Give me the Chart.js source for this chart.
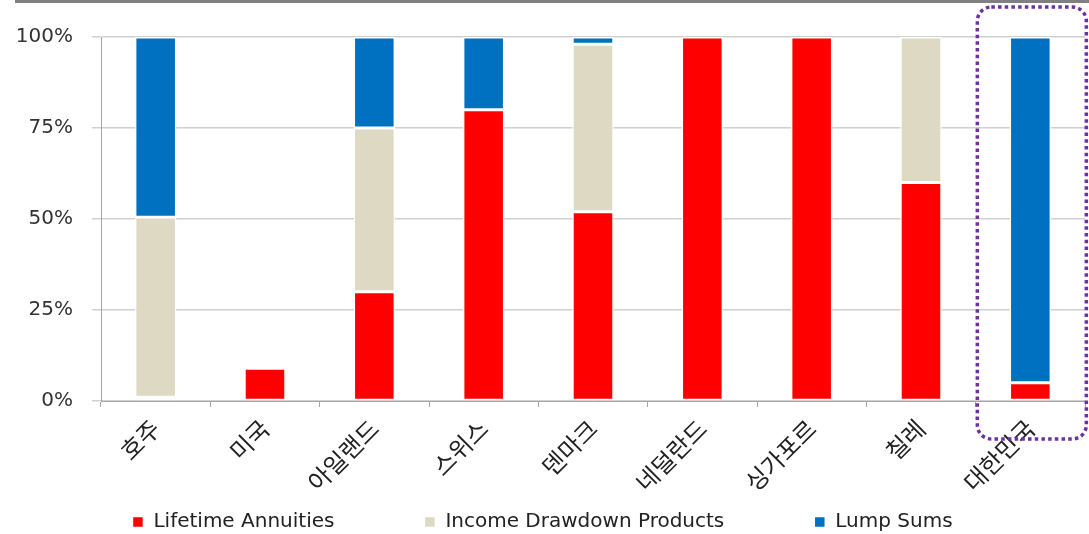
<!DOCTYPE html>
<html>
<head>
<meta charset="utf-8">
<script src="https://cdn.jsdelivr.net/npm/chart.js@4/dist/chart.umd.min.js"></script>
<style>
  html, body { margin: 0; padding: 0; background: #fff; }
  #wrap { position: relative; width: 1089px; height: 534px; }
  #topbar { position: absolute; left: 15px; top: 0; width: 1074px; height: 3px; background: #808080; }
</style>
</head>
<body>
<div id="wrap">
  <div id="topbar"></div>
  <canvas id="chart" width="1089" height="534"></canvas>
</div>
<script>
// Countries and share of each payout type (%)
const countries = ['호주', '미국', '아일랜드', '스위스', '덴마크', '네덜란드', '싱가포르', '칠레', '대한민국'];
const lifetimeAnnuities = [1, 9, 30, 80, 52, 100, 100, 60, 5];
const incomeDrawdown = [49.5, 0, 45, 0, 46, 0, 0, 40, 0];
const lumpSums = [49.5, 0, 25, 20, 2, 0, 0, 0, 95];
const yTicks = [0, 25, 50, 75, 100];

// dotted highlight round the last category
const highlightBox = {
    id: 'highlightBox',
    afterDraw(chart) {
        const x = chart.scales.x;
        const y = chart.scales.y;
        const cx = x.getPixelForValue(countries.length - 1);
        const left = cx - 53, right = cx + 56;
        const top = 7, bottom = y.bottom + 38;
        const ctx = chart.ctx;
        ctx.save();
        ctx.strokeStyle = '#7030A0';
        ctx.lineWidth = 3.5;
        ctx.setLineDash([3.5, 3.2]);
        ctx.beginPath();
        ctx.roundRect(left, top, right - left, bottom - top, 14);
        ctx.stroke();
        ctx.restore();
    }
};

const ctx = document.getElementById('chart').getContext('2d');
new Chart(ctx, {
    type: 'bar',
    data: {
        labels: countries,
        datasets: [
            { label: 'Lifetime Annuities', data: lifetimeAnnuities, backgroundColor: '#FF0000' },
            { label: 'Income Drawdown Products', data: incomeDrawdown, backgroundColor: '#DDD9C3' },
            { label: 'Lump Sums', data: lumpSums, backgroundColor: '#0070C0' }
        ].map(d => Object.assign(d, {
            borderColor: '#ffffff',
            borderWidth: 1.5,
            borderSkipped: false,
            barPercentage: 0.38,
            categoryPercentage: 1
        }))
    },
    options: {
        responsive: false,
        animation: false,
        layout: { padding: { top: 37, right: 4, left: 0, bottom: -8 } },
        plugins: {
            tooltip: { enabled: false },
            legend: {
                position: 'bottom',
                labels: {
                    boxWidth: 11,
                    boxHeight: 11,
                    padding: 90,
                    color: '#222',
                    font: { family: 'DejaVu Sans', size: 20 }
                }
            }
        },
        scales: {
            x: {
                stacked: true,
                // short axis box so the legend can keep its wide spacing; labels may hang below it
                afterFit: axis => {
                    axis.height = 21;
                    axis._computeLabelArea = () => undefined;
                },
                grid: { display: true, drawOnChartArea: false, tickLength: 6, color: '#A6A6A6' },
                border: { color: '#A6A6A6' },
                ticks: {
                    maxRotation: 45,
                    minRotation: 45,
                    color: '#222',
                    padding: 7,
                    font: { family: 'Noto Sans CJK KR', size: 24 }
                }
            },
            y: {
                stacked: true,
                min: 0,
                max: 100,
                afterFit: axis => { axis.width = 101; },
                afterBuildTicks: axis => { axis.ticks = yTicks.map(v => ({ value: v })); },
                grid: { color: '#D0D0D0', lineWidth: 1.5, tickLength: 9 },
                border: { color: '#A6A6A6' },
                ticks: {
                    callback: v => v + '%',
                    color: '#333',
                    padding: 19,
                    font: { family: 'DejaVu Sans', size: 20 }
                }
            }
        }
    },
    plugins: [highlightBox]
});
</script>
</body>
</html>
